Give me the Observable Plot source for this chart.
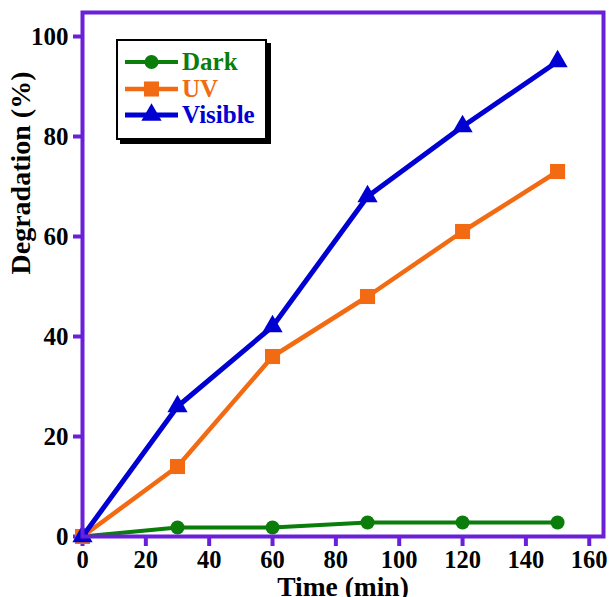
<!DOCTYPE html>
<html>
<head>
<meta charset="utf-8">
<script src="https://cdn.jsdelivr.net/npm/d3@7"></script>
<script src="https://cdn.jsdelivr.net/npm/@observablehq/plot@0.6"></script>
<style>
  html, body { margin: 0; padding: 0; background: #fff; }
  #wrap { position: relative; width: 609px; height: 597px; }
  #chart svg, #chart svg text { font-family: "Liberation Serif", "Times New Roman", serif !important; }
  #legend {
    position: absolute; left: 116px; top: 39px; width: 151px; height: 101px;
    box-sizing: border-box; border: 2px solid #000; background: #fff;
    box-shadow: 4px 4px 0 #000;
    font-family: "Liberation Serif", "Times New Roman", serif; font-weight: bold; font-size: 25px;
  }
  .row { position: absolute; left: 0; height: 26px; display: flex; align-items: center; }
  .row svg { display: block; }
  .row span { margin-left: 2px; line-height: 26px; }
</style>
</head>
<body>
<div id="wrap"><div id="chart"></div><div id="legend"></div></div>
<script>
// ---- data ----
const times = [0, 30, 60, 90, 120, 150];
const dark = [0, 1.8, 1.8, 2.8, 2.8, 2.8];
const uv = [0, 14, 36, 48, 61, 73];
const visible = [0, 26, 42, 68, 82, 95];
const seriesNames = ["Dark", "UV", "Visible"];
const xTicks = [0, 20, 40, 60, 80, 100, 120, 140, 160];
const yTicks = [0, 20, 40, 60, 80, 100];
const xLabel = "Time (min)";
const yLabel = "Degradation (%)";

// ---- styles ----
const colors = ["#0b7d0b", "#f26a12", "#0000d2"];
const symbols = ["circle", "square", "triangle"];
const radii = [7, 8.5, 7.5];
const widths = [4, 4.5, 5];
const purple = "#6a1fd8";
const font = "Liberation Serif";

const values = [dark, uv, visible];
const series = seriesNames.map((name, i) => times.map((t, j) => ({time: t, value: values[i][j], series: name})));

const marks = [];
series.forEach((data, i) => {
  marks.push(Plot.line(data, {x: "time", y: "value", stroke: colors[i], strokeWidth: widths[i], strokeLinejoin: "miter"}));
  marks.push(Plot.dot(data, {x: "time", y: "value", symbol: () => symbols[i], r: radii[i], fill: colors[i], stroke: "none"}));
});

const chart = Plot.plot({
  width: 609,
  height: 597,
  marginLeft: 82,
  marginRight: 6,
  marginTop: 12,
  marginBottom: 61,
  style: {fontFamily: font, background: "#fff"},
  x: {domain: [0, 164.5], axis: null},
  y: {domain: [0, 104.8], axis: null},
  symbol: {type: "identity"},
  marks: [
    Plot.axisX({ticks: xTicks, tickSize: 10, tickPadding: 4, stroke: purple, strokeWidth: 4, fill: "#000",
      fontSize: 24.5, fontWeight: "bold", label: null, tickFormat: d => String(d)}),
    Plot.axisY({ticks: yTicks, tickSize: 9, tickPadding: 5, stroke: purple, strokeWidth: 4, fill: "#000",
      fontSize: 25, fontWeight: "bold", label: null, tickFormat: d => String(d)}),
    ...marks,
    Plot.frame({stroke: purple, strokeWidth: 4}),
    Plot.text([xLabel], {frameAnchor: "bottom", lineAnchor: "middle", dy: 51, fontSize: 27.5, fontWeight: "bold", fill: "#000", fontFamily: font}),
    Plot.text([yLabel], {frameAnchor: "left", lineAnchor: "middle", dx: -61, rotate: -90, fontSize: 28, fontWeight: "bold", fill: "#000", fontFamily: font})
  ]
});
document.getElementById("chart").appendChild(chart);

// ---- legend ----
const legend = d3.select("#legend");
seriesNames.forEach((name, i) => {
  const row = legend.append("div").attr("class", "row").style("top", (8 + i * 26.5) + "px");
  const svg = row.append("svg").attr("width", 62).attr("height", 26);
  svg.append("line").attr("x1", 7).attr("x2", 60).attr("y1", 13).attr("y2", 13)
    .attr("stroke", colors[i]).attr("stroke-width", widths[i]);
  const sym = {circle: d3.symbolCircle, square: d3.symbolSquare, triangle: d3.symbolTriangle}[symbols[i]];
  svg.append("path").attr("transform", "translate(33.5,13)")
    .attr("d", d3.symbol(sym, Math.PI * radii[i] * radii[i])())
    .attr("fill", colors[i]);
  row.append("span").style("color", colors[i]).text(name);
});
</script>
</body>
</html>
